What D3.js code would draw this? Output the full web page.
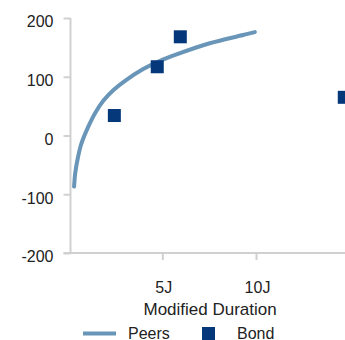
<!DOCTYPE html>
<html>
<head>
<meta charset="utf-8">
<script src="https://cdn.jsdelivr.net/npm/d3@7"></script>
<style>
  html, body { margin: 0; padding: 0; background: #FFFFFF; }
  #chart { width: 345px; height: 340px; overflow: hidden; }
</style>
</head>
<body>
<div id="chart"></div>
<script>
// Peer curve vs bond spreads, by modified duration

const peerDuration = [0.29, 0.36, 0.50, 0.68, 1.05, 1.41, 1.85, 2.38, 3.01, 3.98, 4.88, 5.76, 7.53, 9.31, 9.94]
const peerSpread = [-87, -62, -37, -14, 15, 38, 59, 77, 93, 113, 127, 138, 157, 171, 176]

const bondDuration = [2.44, 4.73, 5.96, 14.71]
const bondSpread = [34, 117, 168, 65]

const yTicks = [-200, -100, 0, 100, 200]
const xTicks = [5, 10]
const xTickLabel = d => d + 'J'

const width = 345
const height = 340
const font = '"Liberation Sans", Arial, sans-serif'
const axisColor = '#D0D0D0'
const textColor = '#222222'
const peerColor = '#6996B8'
const bondColor = '#05387A'

const x = d3.scaleLinear().domain([0.1, 15]).range([70.5, 349.7])
const y = d3.scaleLinear().domain([-200, 200]).range([253, 18])

const svg = d3.select('#chart')
  .append('svg')
  .attr('width', width)
  .attr('height', height)
  .attr('viewBox', `0 0 ${width} ${height}`)

// ---- Y axis ----
svg.append('g')
  .attr('transform', `translate(${x(0.1)},0)`)
  .call(d3.axisLeft(y).tickValues(yTicks).tickFormat(d => String(d)).tickSize(7).tickPadding(10))
  .call(g => {
    g.select('.domain').attr('stroke', axisColor).attr('stroke-width', 2)
      .attr('d', `M0,${y(200)}V${y(-200)}`)
    g.selectAll('.tick line').attr('stroke', axisColor).attr('stroke-width', 2)
    g.selectAll('.tick text')
      .attr('fill', textColor)
      .attr('font-size', '16px')
      .attr('font-family', font)
      .attr('dy', '0.55em')
  })

// ---- X axis ----
svg.append('g')
  .attr('transform', `translate(0,${y(-200)})`)
  .call(d3.axisBottom(x).tickValues(xTicks).tickFormat(xTickLabel).tickSize(7).tickPadding(22))
  .call(g => {
    g.select('.domain').attr('stroke', axisColor).attr('stroke-width', 2)
      .attr('d', `M${x(0.1) - 7},0H${width}`)
    g.selectAll('.tick line').attr('stroke', axisColor).attr('stroke-width', 2)
    g.selectAll('.tick text')
      .attr('fill', textColor)
      .attr('font-size', '16px')
      .attr('font-family', font)
      .attr('dx', '1px')
  })

// X axis title
svg.append('text')
  .attr('x', (x.range()[0] + x.range()[1]) / 2)
  .attr('y', 315)
  .attr('text-anchor', 'middle')
  .attr('fill', textColor)
  .attr('font-size', '17px')
  .attr('font-family', font)
  .text('Modified Duration')

// ---- Peer curve ----
const peers = peerDuration.map((d, i) => ({ duration: d, spread: peerSpread[i] }))

svg.append('path')
  .datum(peers)
  .attr('fill', 'none')
  .attr('stroke', peerColor)
  .attr('stroke-width', 4)
  .attr('stroke-linecap', 'round')
  .attr('d', d3.line()
    .x(d => x(d.duration))
    .y(d => y(d.spread))
    .curve(d3.curveCatmullRom.alpha(0.5)))

// ---- Bond points ----
const bonds = bondDuration.map((d, i) => ({ duration: d, spread: bondSpread[i] }))
const sq = 13

svg.append('g')
  .selectAll('rect')
  .data(bonds)
  .join('rect')
  .attr('x', d => x(d.duration) - sq / 2)
  .attr('y', d => y(d.spread) - sq / 2)
  .attr('width', sq)
  .attr('height', sq)
  .attr('fill', bondColor)

// ---- Legend ----
const legend = svg.append('g')

legend.append('line')
  .attr('x1', 83).attr('x2', 116)
  .attr('y1', 333.5).attr('y2', 333.5)
  .attr('stroke', peerColor)
  .attr('stroke-width', 4)

legend.append('text')
  .attr('x', 128).attr('y', 338.5)
  .attr('fill', textColor)
  .attr('font-size', '16px')
  .attr('font-family', font)
  .text('Peers')

legend.append('rect')
  .attr('x', 202).attr('y', 327)
  .attr('width', sq).attr('height', sq)
  .attr('fill', bondColor)

legend.append('text')
  .attr('x', 237).attr('y', 338.5)
  .attr('fill', textColor)
  .attr('font-size', '16px')
  .attr('font-family', font)
  .text('Bond')
</script>
</body>
</html>
